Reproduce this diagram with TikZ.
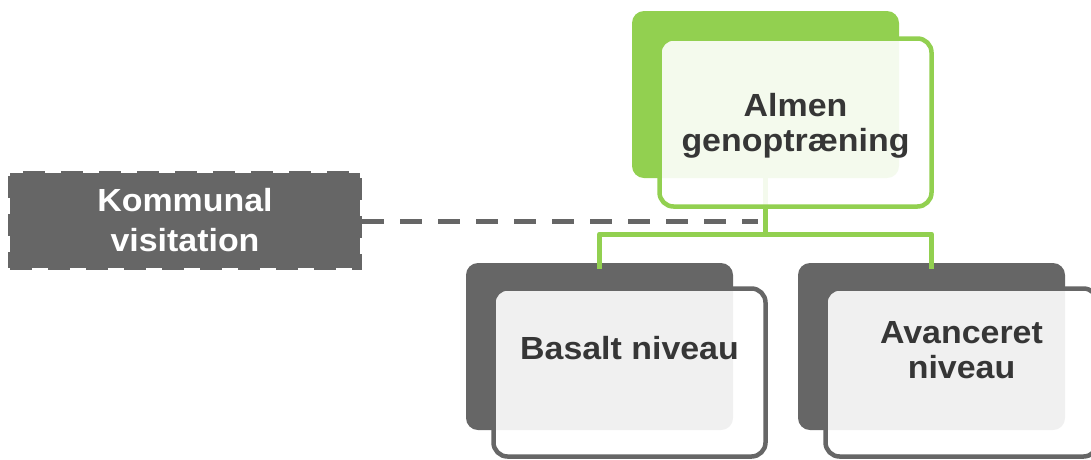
\documentclass[tikz,border=0pt]{standalone}
\usepackage{fontspec}
\newfontfamily\lab[FakeStretch=1.06]{Liberation Sans}
\definecolor{grn}{HTML}{92D050}
\definecolor{drk}{HTML}{666666}
\definecolor{txt}{HTML}{363636}
\tikzset{
  backbox/.style={rectangle, rounded corners=12pt, minimum width=267pt, minimum height=167pt, inner sep=0pt, draw=none},
  frontbox/.style={rectangle, rounded corners=14pt, minimum width=272pt, minimum height=168pt, inner sep=0pt, fill=white, fill opacity=0.9, line width=4.5pt},
  lbl/.style={align=center, inner sep=0pt, text=txt, font=\lab\bfseries\fontsize{32}{35}\selectfont},
  dashline/.style={draw=drk, line width=5pt, dash pattern=on 22pt off 16pt},
  conn/.style={draw=grn, line width=5pt}
}
\begin{document}
\begin{tikzpicture}[x=1pt,y=-1pt]
\useasboundingbox (0,0) rectangle (1091,459);
% Kommunal visitation
\node[rectangle, minimum width=350pt, minimum height=95pt, inner sep=0pt, fill=drk, draw=drk, line width=4pt, dash pattern=on 22pt off 16pt] (kv) at (185,220) {};
\node[lbl, text=white, font=\lab\bfseries\fontsize{32}{40}\selectfont] (kvt) at (185,220.5) {Kommunal\\visitation};
% green top
\node[backbox, fill=grn] (gb) at (765.5,94.5) {};
\coordinate (j) at (765.5,234);
\coordinate (kend) at (758,221);
% back gray boxes
\node[backbox, fill=drk] (b1) at (599.5,346.5) {};
\node[backbox, fill=drk] (b2) at (931.5,346.5) {};
% connectors
\draw[conn] ([yshift=5pt]gb.south) -- (j);
\draw[conn, line join=round] ([yshift=-6pt]b1.north) |- (j) -| ([yshift=-6pt]b2.north);
\draw[dashline] (kv.east |- kend) -- (kend);
% front boxes
\node[frontbox, draw=grn] (gf) at (795.5,122.5) {};
\node[frontbox, draw=drk] (f1) at (629.5,372.5) {};
\node[frontbox, draw=drk] (f2) at (961.5,372.5) {};
% labels
\node[lbl] (gt) at (795.5,125.5) {Almen\\genoptræning};
\node[lbl] (t1) at (629.5,348) {Basalt niveau};
\node[lbl] (t2) at (961.5,350) {Avanceret\\niveau};
\end{tikzpicture}
\end{document}
